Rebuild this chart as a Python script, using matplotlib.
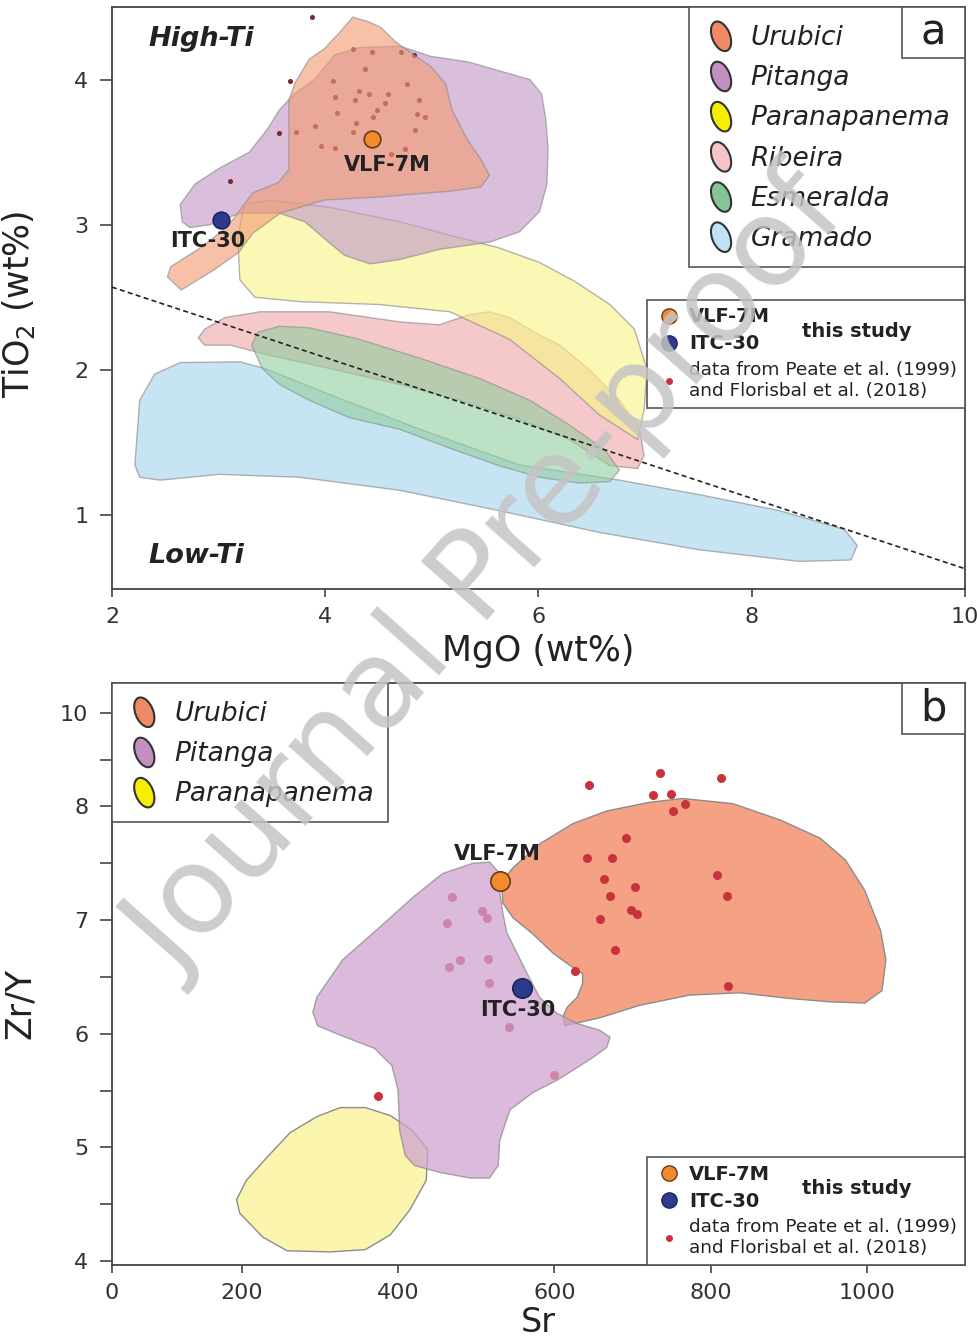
import numpy as np
import matplotlib
matplotlib.use('Agg')
import matplotlib.pyplot as plt
from matplotlib.patches import Ellipse, Patch, Rectangle
from matplotlib.legend_handler import HandlerPatch
from matplotlib.lines import Line2D

# ---------------- panel a : TiO2 vs MgO (field outlines, wt%) ----------------
gramado_mgo = [2.215, 2.26, 2.40, 2.64, 3.20, 3.43, 4.04, 4.89, 5.82, 6.76, 7.51, 8.26, 8.87, 8.99,
               8.93, 8.45, 7.51, 6.57, 5.63, 4.70, 3.76, 3.01, 2.45, 2.26]
gramado_tio2 = [1.345, 1.79, 1.97, 2.05, 2.055, 2.01, 1.83, 1.59, 1.345, 1.24, 1.14, 1.03, 0.90, 0.79,
                0.69, 0.68, 0.76, 0.88, 1.03, 1.17, 1.26, 1.28, 1.24, 1.26]

ribeira_mgo = [2.81, 2.87, 3.06, 3.39, 4.04, 4.70, 5.07, 5.35, 5.54, 5.73, 6.01, 6.20, 6.48, 6.76, 6.95,
               6.99, 6.93, 6.67, 6.29, 5.82, 5.26, 4.70, 4.04, 3.48, 3.11, 2.87]
ribeira_tio2 = [2.22, 2.28, 2.36, 2.40, 2.40, 2.33, 2.31, 2.38, 2.40, 2.36, 2.24, 2.17, 2.00, 1.79, 1.59,
                1.41, 1.32, 1.34, 1.52, 1.66, 1.79, 1.90, 2.01, 2.10, 2.17, 2.17]

esmeralda_mgo = [3.31, 3.37, 3.57, 3.85, 4.32, 4.89, 5.45, 5.92, 6.29, 6.62, 6.76, 6.67, 6.38, 6.01,
                 5.63, 5.17, 4.70, 4.23, 3.85, 3.57, 3.41]
esmeralda_tio2 = [2.17, 2.26, 2.30, 2.29, 2.21, 2.08, 1.94, 1.79, 1.62, 1.45, 1.31, 1.23, 1.22, 1.26,
                  1.34, 1.46, 1.59, 1.67, 1.79, 1.90, 2.01]

para_a_mgo = [3.22, 3.25, 3.48, 4.04, 4.70, 5.26, 5.63, 6.01, 6.34, 6.67, 6.90, 7.02, 6.99, 6.93, 6.57,
              6.20, 5.73, 5.17, 4.51, 3.76, 3.34, 3.20, 3.18]
para_a_tio2 = [3.07, 3.14, 3.17, 3.12, 3.02, 2.91, 2.84, 2.74, 2.61, 2.45, 2.28, 2.00, 1.72, 1.52, 1.69,
               1.94, 2.21, 2.40, 2.45, 2.47, 2.50, 2.62, 2.90]

pitanga_a_mgo = [2.66, 2.64, 2.78, 3.01, 3.29, 3.46, 3.57, 3.71, 3.90, 4.09, 4.32, 4.70, 4.99, 5.35, 5.68,
                 5.92, 6.03, 6.07, 6.09, 6.08, 6.01, 5.82, 5.54, 5.07, 4.70, 4.42, 4.18, 4.00, 3.81, 3.57,
                 3.20, 2.92, 2.73]
pitanga_a_tio2 = [3.02, 3.14, 3.28, 3.39, 3.50, 3.66, 3.79, 3.90, 4.00, 4.17, 4.22, 4.23, 4.16, 4.12, 4.05,
                  4.00, 3.90, 3.72, 3.52, 3.28, 3.09, 2.95, 2.88, 2.83, 2.76, 2.73, 2.79, 2.90, 3.02, 3.08,
                  3.08, 3.00, 2.98]

urubici_a_mgo = [4.26, 4.40, 4.52, 4.66, 4.83, 4.99, 5.13, 5.19, 5.33, 5.46, 5.54, 5.46, 5.16, 4.99, 4.49,
                 3.99, 3.58, 3.32, 3.19, 2.96, 2.65, 2.52, 2.55, 2.85, 3.09, 3.32, 3.56, 3.66, 3.66, 3.72,
                 3.85, 3.99, 4.13]
urubici_a_tio2 = [4.43, 4.40, 4.36, 4.26, 4.17, 4.09, 3.97, 3.79, 3.59, 3.45, 3.34, 3.26, 3.23, 3.22, 3.19,
                  3.17, 3.08, 2.94, 2.81, 2.69, 2.55, 2.64, 2.71, 2.85, 2.99, 3.22, 3.29, 3.38, 3.86, 3.98,
                  4.14, 4.21, 4.32]

peate_a_mgo = [3.88, 4.83, 3.67, 3.57, 3.11, 4.26, 4.44, 4.71, 4.37, 4.07, 4.32, 4.41, 4.59, 4.77, 4.09,
               4.28, 4.56, 4.88, 4.49, 4.45, 4.11, 4.86, 4.94, 4.29, 3.90, 3.73, 4.26, 4.84, 3.96, 4.09,
               4.75, 4.62]
peate_a_tio2 = [4.43, 4.17, 3.99, 3.63, 3.30, 4.21, 4.19, 4.19, 4.07, 3.99, 3.92, 3.90, 3.90, 3.97, 3.88,
                3.86, 3.84, 3.86, 3.79, 3.74, 3.77, 3.76, 3.74, 3.70, 3.68, 3.64, 3.64, 3.65, 3.54, 3.53,
                3.52, 3.49]

# high-Ti / low-Ti divide
divide_mgo = [2, 10]
divide_tio2 = [2.57, 0.63]

vlf_a = (4.44, 3.59)
itc_a = (3.02, 3.03)

# ---------------- panel b : Zr/Y vs Sr ----------------
urubici_b_sr = [534, 547, 581, 624, 667, 722, 764, 828, 889, 940, 972, 997, 1017, 1024, 1019, 997, 953,
                901, 837, 773, 709, 658, 613, 611, 616, 629, 636, 636, 624, 598, 572, 547, 534, 533]
urubici_b_zry = [7.35, 7.46, 7.67, 7.85, 7.96, 8.09, 8.17, 8.06, 7.88, 7.72, 7.53, 7.26, 6.91, 6.65, 6.38,
                 6.27, 6.28, 6.31, 6.36, 6.34, 6.25, 6.14, 6.07, 6.15, 6.23, 6.32, 6.44, 6.53, 6.58, 6.71,
                 6.88, 7.02, 7.15, 7.26]

pitanga_b_sr = [496, 517, 530, 530, 534, 539, 552, 565, 581, 603, 629, 658, 671, 667, 649, 624, 603, 572,
                543, 530, 528, 517, 492, 453, 421, 409, 402, 400, 392, 370, 325, 297, 291, 296, 329, 377,
                419, 457]
pitanga_b_zry = [7.50, 7.51, 7.41, 7.24, 7.06, 6.89, 6.71, 6.53, 6.32, 6.18, 6.09, 6.03, 5.97, 5.88, 5.79,
                 5.68, 5.59, 5.48, 5.33, 5.06, 4.84, 4.73, 4.73, 4.78, 4.84, 4.93, 5.15, 5.50, 5.72, 5.87,
                 5.99, 6.07, 6.19, 6.32, 6.65, 6.94, 7.20, 7.41]

para_b_sr = [192, 206, 232, 262, 296, 326, 358, 390, 418, 438, 436, 415, 390, 358, 313, 258, 227, 197]
para_b_zry = [4.54, 4.71, 4.91, 5.13, 5.27, 5.35, 5.35, 5.28, 5.15, 4.98, 4.71, 4.45, 4.23, 4.10, 4.08,
              4.09, 4.21, 4.42]

peate_b_sr = [735, 813, 644, 726, 749, 767, 752, 692, 642, 674, 663, 703, 671, 698, 706, 658, 677, 808,
              821, 822, 626, 469, 507, 514, 462, 515, 479, 465, 516, 542, 599, 374]
peate_b_zry = [8.71, 8.62, 8.45, 8.24, 8.26, 8.06, 7.96, 7.72, 7.55, 7.55, 7.36, 7.29, 7.21, 7.09, 7.05,
               7.01, 6.74, 7.40, 7.21, 6.42, 6.55, 7.20, 7.08, 7.02, 6.97, 6.66, 6.65, 6.59, 6.45, 6.06,
               5.64, 5.45]

vlf_b = (530, 7.34)
itc_b = (558, 6.40)

suites = ['Urubici', 'Pitanga', 'Paranapanema', 'Ribeira', 'Esmeralda', 'Gramado']
legend_colors = ['#f08a66', '#c58fc0', '#f5ee00', '#f6c6c6', '#86c493', '#bfe3f5']

ORANGE = '#f28a2e'
NAVY = '#2e3a8c'
EDGE = '#8c8c8c'


class HandlerBlob(HandlerPatch):
    def create_artists(self, legend, orig_handle, xdescent, ydescent, width, height, fontsize, trans):
        c = (0.5 * width - xdescent, 0.5 * height - ydescent)
        p = Ellipse(c, width=0.5 * width, height=1.05 * height, angle=22)
        self.update_prop(p, orig_handle, legend)
        p.set_transform(trans)
        return [p]


def sr_fwd(x):
    x = np.asarray(x, dtype=float)
    return np.where(x < 200, 200 - (200 - x) * 0.83, x)


def sr_inv(x):
    x = np.asarray(x, dtype=float)
    return np.where(x < 200, 200 - (200 - x) / 0.83, x)


def zry_fwd(y):
    y = np.asarray(y, dtype=float)
    return np.where(y > 8, 8 + (y - 8) * 0.41, y)


def zry_inv(y):
    y = np.asarray(y, dtype=float)
    return np.where(y > 8, 8 + (y - 8) / 0.41, y)


def style_axes(ax):
    for s in ax.spines.values():
        s.set_color('#444444')
        s.set_linewidth(1.3)
    ax.tick_params(direction='out', colors='#444444', labelcolor='#333333', labelsize=16, width=1.2)
    ax.tick_params(axis='y', length=9, pad=8)
    ax.tick_params(axis='x', length=6, pad=7)


def sample_legend(ax, loc, anchor):
    handles = [Line2D([], [], marker='o', ls='', ms=11, mfc=ORANGE, mec='#6b3a12', mew=1),
               Line2D([], [], marker='o', ls='', ms=11, mfc=NAVY, mec='#1c2460', mew=1),
               Line2D([], [], marker='o', ls='', ms=4, mfc='#c8323c', mec='#c8323c')]
    labels = ['VLF-7M', 'ITC-30', 'data from Peate et al. (1999)\nand Florisbal et al. (2018)']
    leg = ax.legend(handles, labels, loc=loc, bbox_to_anchor=anchor, borderaxespad=0,
                    fontsize=13.3, handlelength=1.5, handletextpad=0.35, labelspacing=0.42,
                    borderpad=0.42, fancybox=False, framealpha=1, edgecolor='#555555')
    leg.get_frame().set_linewidth(1.2)
    for t in leg.get_texts()[:2]:
        t.set_fontweight('bold')
        t.set_fontsize(14)
    for t in leg.get_texts():
        t.set_color('#222222')
    return leg


def suite_legend(ax, n, loc, anchor):
    handles = [Patch(facecolor=c, edgecolor='#333333', linewidth=1.5) for c in legend_colors[:n]]
    leg = ax.legend(handles, suites[:n], loc=loc, bbox_to_anchor=anchor, borderaxespad=0,
                    prop={'style': 'italic', 'size': 19}, handlelength=1.35, handleheight=1.35,
                    handletextpad=0.45, labelspacing=0.4, borderpad=0.55, fancybox=False,
                    framealpha=1, edgecolor='#555555', handler_map={Patch: HandlerBlob()})
    leg.get_frame().set_linewidth(1.2)
    for t in leg.get_texts():
        t.set_color('#222222')
    return leg


def panel_letter(ax, letter):
    ax.add_patch(Rectangle((0.926, 0.912), 0.074, 0.088, transform=ax.transAxes, facecolor='white',
                           edgecolor='#555555', lw=1.2, zorder=20))
    ax.text(0.963, 0.956, letter, transform=ax.transAxes, ha='center', va='center', fontsize=30,
            color='#222222', zorder=21)


fig = plt.figure(figsize=(9.77, 13.42), dpi=100)
fig.patch.set_facecolor('white')

# ---------- panel a ----------
ax1 = fig.add_axes([0.1146, 0.5611, 0.873, 0.4337])
ax1.fill(gramado_mgo, gramado_tio2, facecolor='#a9d6ee', alpha=0.65, edgecolor=EDGE, lw=1, zorder=1)
ax1.fill(ribeira_mgo, ribeira_tio2, facecolor='#f1acac', alpha=0.65, edgecolor=EDGE, lw=1, zorder=2)
ax1.fill(para_a_mgo, para_a_tio2, facecolor='#f9f38c', alpha=0.65, edgecolor=EDGE, lw=1, zorder=3)
ax1.fill(esmeralda_mgo, esmeralda_tio2, facecolor='#92ce9e', alpha=0.6, edgecolor=EDGE, lw=1, zorder=4)
ax1.fill(pitanga_a_mgo, pitanga_a_tio2, facecolor='#c59dc9', alpha=0.65, edgecolor=EDGE, lw=1, zorder=5)
ax1.scatter(peate_a_mgo, peate_a_tio2, s=7, color='#7a2a2a', zorder=6)
ax1.fill(urubici_a_mgo, urubici_a_tio2, facecolor='#f39b72', alpha=0.62, edgecolor=EDGE, lw=1, zorder=7)
ax1.plot(divide_mgo, divide_tio2, color='#222222', ls=(0, (3, 2)), lw=1.2, zorder=8)

ax1.plot(*vlf_a, marker='o', ms=12, mfc=ORANGE, mec='#6b3a12', mew=1.2, ls='', zorder=9)
ax1.plot(*itc_a, marker='o', ms=12, mfc=NAVY, mec='#1c2460', mew=1.2, ls='', zorder=9)
ax1.annotate('VLF-7M', vlf_a, xytext=(11, -19), textcoords='offset points', ha='center', va='center',
             fontsize=15, fontweight='bold', color='#222222', zorder=10)
ax1.annotate('ITC-30', itc_a, xytext=(-9, -15), textcoords='offset points', ha='center', va='center',
             fontsize=15, fontweight='bold', color='#222222', zorder=10)

ax1.text(2.34, 4.28, 'High-Ti', fontsize=19.5, fontweight='bold', style='italic', va='center', color='#222222')
ax1.text(2.34, 0.72, 'Low-Ti', fontsize=19.5, fontweight='bold', style='italic', va='center', color='#222222')

ax1.set_xlim(2, 10)
ax1.set_ylim(0.49, 4.50)
ax1.set_xticks([2, 4, 6, 8, 10])
ax1.set_yticks([1, 2, 3, 4])
style_axes(ax1)
ax1.set_xlabel('MgO (wt%)', fontsize=25, color='#222222', labelpad=5)
ax1.set_ylabel('TiO$_2$ (wt%)', fontsize=25, color='#222222')
ax1.yaxis.set_label_coords(-0.088, 0.49)

leg_a1 = suite_legend(ax1, 6, 'upper right', (1, 1))
ax1.add_artist(leg_a1)
leg_a2 = sample_legend(ax1, 'upper right', (1, 0.497))
ax1.text(0.873, 0.443, 'this study', transform=ax1.transAxes, ha='center', va='center',
         fontsize=14, fontweight='bold', color='#222222', zorder=12)
panel_letter(ax1, 'a')

# ---------- panel b ----------
ax2 = fig.add_axes([0.1146, 0.0574, 0.873, 0.4337])
ax2.set_xscale('function', functions=(sr_fwd, sr_inv))
ax2.set_yscale('function', functions=(zry_fwd, zry_inv))
ax2.fill(para_b_sr, para_b_zry, facecolor='#fbf5ae', edgecolor=EDGE, lw=1, zorder=1)
ax2.fill(urubici_b_sr, urubici_b_zry, facecolor='#f4a283', edgecolor=EDGE, lw=1, zorder=2)
ax2.scatter(peate_b_sr, peate_b_zry, s=30, color='#c8323c', zorder=3)
ax2.fill(pitanga_b_sr, pitanga_b_zry, facecolor='#cfa3cf', alpha=0.75, edgecolor=EDGE, lw=1, zorder=4)

ax2.plot(*vlf_b, marker='o', ms=14, mfc=ORANGE, mec='#6b3a12', mew=1.2, ls='', zorder=9)
ax2.plot(*itc_b, marker='o', ms=14, mfc=NAVY, mec='#1c2460', mew=1.2, ls='', zorder=9)
ax2.annotate('VLF-7M', vlf_b, xytext=(-1.5, 20), textcoords='offset points', ha='center', va='center',
             fontsize=15, fontweight='bold', color='#222222', zorder=10)
ax2.annotate('ITC-30', itc_b, xytext=(-3, -16), textcoords='offset points', ha='center', va='center',
             fontsize=15, fontweight='bold', color='#222222', zorder=10)

ax2.set_xlim(0, 1125)
ax2.set_ylim(3.965, 10.65)
ax2.set_xticks([0, 200, 400, 600, 800, 1000])
ax2.set_xticklabels(['0', '200', '400', '600', '800', '1000'])
ax2.set_yticks([4, 4.5, 5, 5.5, 6, 6.5, 7, 7.5, 8, 9, 10])
ax2.set_yticklabels(['4', '', '5', '', '6', '', '7', '', '8', '', '10'])
ax2.minorticks_off()
style_axes(ax2)
ax2.set_xlabel('Sr', fontsize=24, color='#222222', labelpad=2)
ax2.set_ylabel('Zr/Y', fontsize=25, color='#222222')
ax2.yaxis.set_label_coords(-0.088, 0.45)

leg_b1 = suite_legend(ax2, 3, 'upper left', (0, 1))
ax2.add_artist(leg_b1)
leg_b2 = sample_legend(ax2, 'lower right', (1, 0))
ax2.text(0.873, 0.131, 'this study', transform=ax2.transAxes, ha='center', va='center',
         fontsize=14, fontweight='bold', color='#222222', zorder=12)
panel_letter(ax2, 'b')

# watermark
fig.text(0.50, 0.571, 'Journal Pre-proof', rotation=48.5, fontsize=88, color='#c4c4c4',
         ha='center', va='center', alpha=0.85, zorder=30)

fig.savefig('out.png', dpi=100)
